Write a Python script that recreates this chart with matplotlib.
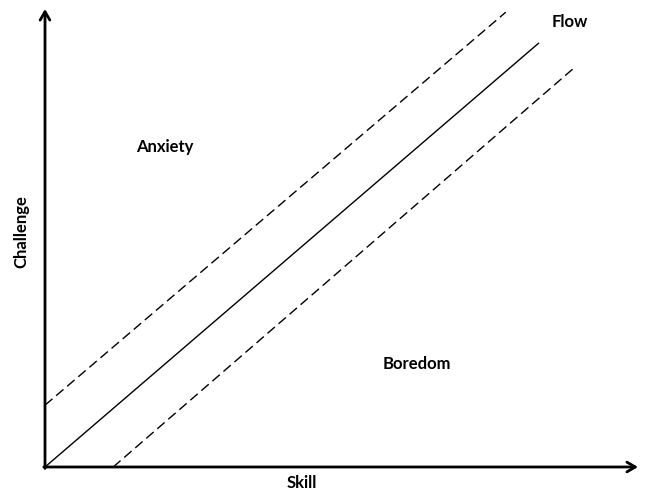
import matplotlib
matplotlib.use("Agg")
import matplotlib.pyplot as plt

# Data (0-100 scale for skill / challenge)
flow_x = [0, 83.3]
flow_y = [0, 92.6]
upper_x = [0, 77.7]
upper_y = [13.5, 99.3]
lower_x = [11.5, 89.0]
lower_y = [0, 86.9]

labels = ["Flow", "Anxiety", "Boredom"]
label_x = [88.5, 20.2, 62.7]
label_y = [97.2, 69.9, 22.5]

W, H = 646, 494
fig = plt.figure(figsize=(W / 100, H / 100), dpi=100)
# origin at pixel (45, 467), x to 638, y to 9
left, right, bottom, top = 45, 638, 467, 9
ax = fig.add_axes([left / W, 1 - bottom / H, (right - left) / W, (bottom - top) / H])
ax.set_xlim(0, 100)
ax.set_ylim(0, 100)
ax.axis("off")

font = dict(family=["Lato", "DejaVu Sans"], weight="bold", fontsize=12, color="black")

ax.plot(flow_x, flow_y, color="black", lw=1.0, solid_capstyle="butt")
ax.plot(upper_x, upper_y, color="black", lw=1.0, dashes=(7, 3.5))
ax.plot(lower_x, lower_y, color="black", lw=1.0, dashes=(7, 3.5))

arrow = dict(arrowstyle="->,head_length=0.6,head_width=0.35", color="black", lw=2.0,
             shrinkA=0, shrinkB=0)
ax.annotate("", xy=(100, 0), xytext=(-0.2, 0), arrowprops=arrow, annotation_clip=False)
ax.annotate("", xy=(0, 100), xytext=(0, -0.3), arrowprops=arrow, annotation_clip=False)

for t, x, y in zip(labels, label_x, label_y):
    ax.text(x, y, t, ha="center", va="center", **font)

ax.text(43.3, -3.4, "Skill", ha="center", va="center", clip_on=False, **font)
ax.text(-3.9, 51.3, "Challenge", ha="center", va="center", rotation=90, clip_on=False, **font)

fig.savefig("out.png", dpi=100)
